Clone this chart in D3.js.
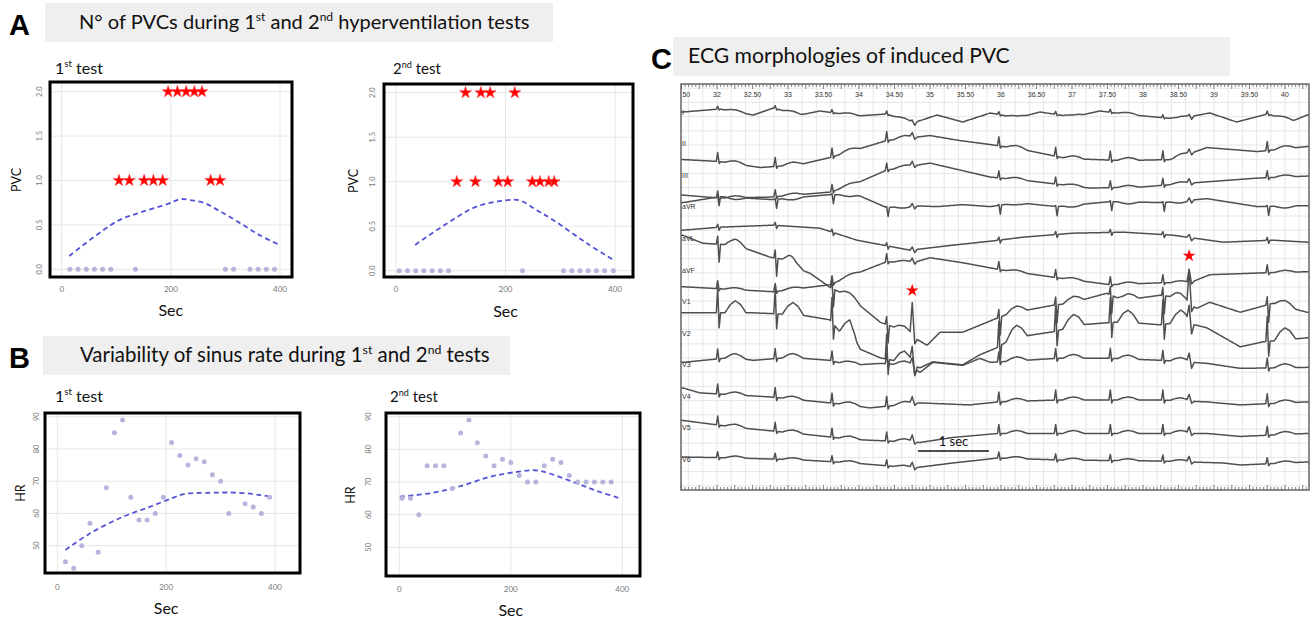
<!DOCTYPE html>
<html><head><meta charset="utf-8">
<script src="https://cdn.jsdelivr.net/npm/d3@7"></script>
<style>
body{margin:0;background:#fff;}
svg{display:block;}
text{font-family:Lato,"Open Sans",sans-serif;}
</style>
</head><body>
<svg id="c" width="1316" height="622"></svg>
<script>
// ---------------- DATA ----------------
const secTicks = [0, 200, 400];
const pvcTicks = [0, 0.5, 1.0, 1.5, 2.0];
const hrTicks = [50, 60, 70, 80, 90];

// Panel A: PVC counts
const pvc1Sec   = [15,30,45,60,75,90,105,124,135,151,168,185,195,212,228,243,257,273,290,300,315,345,360,375,390];
const pvc1Count = [0,0,0,0,0,0,1,1,0,1,1,1,2,2,2,2,2,1,1,0,0,0,0,0,0];
const pvc2Sec   = [6,21,36,51,66,81,96,111,127,145,155,172,187,204,217,231,249,263,279,289,306,321,336,351,366,381,397];
const pvc2Count = [0,0,0,0,0,0,0,1,2,1,2,2,1,1,2,0,1,1,1,1,0,0,0,0,0,0,0];
const pvc1FitSec = [14,101,144,196,217,235,260,291,327,364,401];
const pvc1FitVal = [0.15,0.54,0.64,0.74,0.79,0.78,0.75,0.65,0.52,0.38,0.27];
const pvc2FitSec = [35,93,147,200,226,257,287,348,400];
const pvc2FitVal = [0.29,0.53,0.72,0.79,0.79,0.68,0.57,0.31,0.11];

// Panel B: heart rate
const hr1Sec = [15,30,45,60,75,90,105,120,135,150,165,180,195,210,225,240,255,270,285,300,315,345,360,375,390];
const hr1Val = [45,43,50,57,48,68,85,89,65,58,58,60,65,82,78,75,77,76,72,70,60,63,62,60,65];
const hr2Sec = [5,20,35,50,65,80,95,110,125,140,155,170,185,200,215,230,245,260,275,290,305,320,335,350,365,380];
const hr2Val = [65,65,60,75,75,75,68,85,89,82,78,75,77,76,72,70,70,75,77,76,72,70,70,70,70,70];
const hr1FitSec = [15,60,121,171,210,232,275,336,373,391];
const hr1FitVal = [48.7,53.8,59,62.1,64.7,66,66.4,66.4,65.7,65.2];
const hr2FitSec = [1,61,109,163,211,243,270,318,354,396];
const hr2FitVal = [65.5,66.7,68.7,71.6,73.1,73.6,72.6,69.6,67.3,65];

// Panel C: ECG (time in s, amplitude in mV relative to lead line)
const ecgTimeLabels = [31.5,32,32.5,33,33.5,34,34.5,35,35.5,36,36.5,37,37.5,38,38.5,39,39.5,40];
const ecgLeads = ["I","II","III","aVR","aVL","aVF","V1","V2","V3","V4","V5","V6"];
const sinusTimes = [32.01,32.82,33.62,34.39,35.97,36.77,37.54,38.28,39.75];
const pvcTimes = [34.75,38.65];
const baseI   = [[31.52,0.1],[32.04,0.4],[32.51,-0.2],[32.79,0.5],[33.17,-0.2],[33.45,0.2],[33.97,-0.3],[34.39,-0.1],[34.76,-1.0],[35.10,-0.2],[35.46,-0.9],[35.85,0],[36.23,-0.5],[36.55,0.1],[37.01,-0.4],[37.39,0.2],[37.86,-0.2],[38.48,-0.6],[38.94,0],[39.32,-0.9],[39.75,-0.1],[40.11,-0.8],[40.31,-0.2]];
const baseII  = [[31.52,-1.5],[32.04,-1.7],[32.61,-2.3],[33.17,-2.0],[33.59,-1.3],[33.97,-0.5],[34.39,0.4],[35.00,0.9],[35.42,0.4],[35.85,0],[36.31,-0.5],[36.93,-1.4],[37.72,-1.6],[38.42,-1.5],[38.90,-0.3],[39.61,-0.7],[40.31,-0.2]];
const baseIII = [[31.52,-1.9],[32.04,-2.2],[32.75,-2.1],[33.59,-1.6],[33.97,-0.7],[34.39,0.6],[35.00,1.3],[35.85,-0.1],[36.31,-0.4],[37.25,-1.2],[37.96,-1.1],[38.66,-0.7],[39.61,-0.2],[40.31,0]];
const baseAVR = [[31.52,0.5],[32.04,1.1],[32.79,0.8],[33.59,1.3],[33.97,1.3],[34.39,0],[34.72,0.2],[35.10,0.1],[35.46,0.3],[35.85,0.1],[36.23,0.5],[36.79,0.1],[37.54,0.6],[38.28,0.5],[38.90,0.9],[39.61,0.1],[40.31,0.2]];
const baseAVL = [[31.52,0.9],[32.04,1.2],[32.79,1.4],[33.45,1.1],[33.97,-0.1],[34.72,-1.1],[35.32,-0.6],[35.85,-0.2],[36.31,0.2],[37.01,0.6],[37.72,0.7],[38.42,0.4],[39.13,-0.3],[39.83,-0.1],[40.31,-0.3]];
const baseAVF = [[31.52,-1.6],[32.79,-2.1],[33.59,-1.4],[33.92,-0.4],[34.39,0.9],[34.76,0.8],[35.00,1.3],[35.46,0.8],[35.99,0.1],[36.79,-0.7],[37.54,-1.4],[38.28,-1.2],[38.66,-1.2],[38.94,-0.4],[39.75,-0.2],[40.31,-0.1]];
const baseV1  = [[31.52,6.7],[31.80,5.9],[32.28,5.7],[32.75,4.5],[33.03,4.2],[33.13,3.4],[33.31,2.9],[33.59,1.5],[33.73,1.0],[34.01,-0.3],[34.30,-2.0],[34.54,-2.6],[34.72,-3.3],[34.96,-4.3],[35.14,-3.0],[35.46,-3.0],[35.94,-1.6],[36.13,-1.1],[36.73,-0.3],[36.97,-0.1],[37.49,0.9],[37.72,0.2],[38.24,0.7],[38.48,0.5],[38.62,-0.1],[38.76,-0.6],[38.94,0],[39.37,-1.0],[39.83,-0.1],[40.31,-1.0]];
const baseV2  = [[31.52,2.1],[32.51,2.1],[33.17,1.9],[33.59,1.4],[33.73,0.2],[33.87,0.2],[33.97,-1.4],[34.30,-2.4],[34.58,-2.8],[34.86,-3.4],[35.04,-2.8],[35.46,-3.1],[35.70,-2.1],[35.94,-1.4],[36.17,-0.4],[36.73,0.2],[37.11,0.9],[37.49,1.1],[37.72,1.2],[38.24,0.9],[38.56,1.2],[38.90,0.6],[39.37,-1.3],[39.69,-0.8],[40.31,-0.4]];
const baseV3  = [[31.52,0.3],[32.23,0.8],[32.51,0.5],[33.03,0.8],[33.59,0.5],[33.87,0],[34.30,0.2],[34.72,0],[34.86,-0.7],[35.04,0.3],[35.46,0],[35.70,0.7],[35.85,0.3],[36.79,0.7],[37.54,0.7],[38.28,0.5],[38.90,0.2],[39.37,-0.3],[40.31,-0.2]];
const baseV4  = [[31.52,0.9],[31.76,0.4],[32.75,0],[33.87,-0.8],[34.15,-1.1],[34.86,-0.6],[35.56,-0.8],[35.96,-0.5],[36.83,-0.3],[38.24,-0.3],[38.90,-0.5],[39.37,-0.8],[40.31,-0.5]];
const baseV5  = [[31.52,0.8],[32.28,0.1],[33.13,-0.5],[33.92,-1.1],[34.86,-1.4],[35.32,-0.9],[35.96,-0.5],[36.83,-0.5],[38.24,-0.5],[38.90,-0.5],[39.37,-0.8],[40.31,-0.5]];
const baseV6  = [[31.52,0.3],[32.28,0.2],[33.21,0],[33.92,-0.3],[34.76,-0.8],[35.32,-0.3],[35.96,0.2],[36.83,0],[38.24,-0.1],[39.13,-0.3],[39.37,-0.5],[40.31,-0.2]];
const ecgBaselines = [baseI,baseII,baseIII,baseAVR,baseAVL,baseAVF,baseV1,baseV2,baseV3,baseV4,baseV5,baseV6];
// per-lead complex amplitudes (mV), order as ecgLeads
const sinusR = [0.3,0.9,0.7,0.1,0.3,0.8,0.8,2.5,1.0,1.0,0.9,0.6];
const sinusS = [0.1,0.2,0.2,0.9,0.3,0.2,1.8,1.5,0.3,0.3,0.2,0.2];
const sinusT = [0.2,0.3,0.2,-0.2,0,0.2,0.6,1.2,0.4,0.3,0.3,0.2];
const pvc1R  = [0.2,0.4,0.4,0.3,0.3,0.4,3.2,1.5,0.8,0.6,0.6,0.5];
const pvc2R  = [0.2,0.4,0.4,0.3,0.3,1.3,3.3,1.5,0.8,0.6,0.6,0.5];
const pvcS   = [0.3,0.2,0.2,0.3,0.3,0.2,0.6,1.0,0.6,0.2,0.2,0.2];
const qrsOffsets = [-0.02,0,0.02,0.04];
const pvcOffsets = [-0.03,0,0.035,0.07];
const tOffsets = [0.10,0.18,0.25,0.32,0.40];
const tShape   = [0,0.7,1,0.7,0];
const starLeads = ["V1","aVF"];
const scaleBarStart = 34.83;

// ---------------- DRAW ----------------
const svg = d3.select("#c");
svg.append("rect").attr("width",1316).attr("height",622).attr("fill","#fff");

function supText(g, x, y, parts, size, anchor){
  const t = g.append("text").attr("x",x).attr("y",y).attr("font-size",size)
    .attr("text-anchor",anchor||"start").attr("fill","#111");
  parts.forEach(p=>{
    const s = t.append("tspan").text(p[0]);
    if(p[1]) s.attr("font-size","0.6em").attr("baseline-shift","70%");
  });
  return t;
}
function fitText(t, target){
  const w = t.node().getComputedTextLength();
  const s = parseFloat(t.attr("font-size"));
  t.attr("font-size", s*target/w);
}

// Panel letters
[["A",9,35],["B",9,368],["C",651,69]].forEach(d=>{
  svg.append("text").attr("x",d[1]).attr("y",d[2]).text(d[0])
    .style("font-family","'Liberation Sans',Arial,sans-serif").attr("font-weight","bold").attr("font-size",29).attr("fill","#000");
});

// Title boxes
const titles = [
  {box:[45,3,553,42], x:79, w:451, y:29, parts:[["N° of PVCs during 1"],["st",1],[" and 2"],["nd",1],[" hyperventilation tests"]]},
  {box:[43,336,510,375], x:80, w:410, y:362, parts:[["Variability of sinus rate during 1"],["st",1],[" and 2"],["nd",1],[" tests"]]},
  {box:[673,37,1230,76], x:688, w:322, y:63, parts:[["ECG morphologies of induced PVC"]]}
];
titles.forEach(d=>{
  svg.append("rect").attr("x",d.box[0]).attr("y",d.box[1]).attr("width",d.box[2]-d.box[0]).attr("height",d.box[3]-d.box[1]).attr("fill","#efefef");
  const t = supText(svg, d.x, d.y, d.parts, 18);
  fitText(t, d.w);
});

// sub titles
[[55,74,"1","st"],[393,74,"2","nd"],[55,402,"1","st"],[390,402,"2","nd"]].forEach(d=>{
  const t = supText(svg, d[0], d[1], [[d[2]],[d[3],1],[" test"]], 16);
  fitText(t, 48);
});

function panel(cfg){
  const g = svg.append("g");
  const xs = d3.scaleLinear().domain([0,400]).range(cfg.xr);
  const ys = d3.scaleLinear().domain(cfg.yd).range(cfg.yr);
  const b = cfg.box;
  g.selectAll(".gx").data(secTicks).join("line").attr("x1",d=>xs(d)).attr("x2",d=>xs(d))
    .attr("y1",b[1]).attr("y2",b[3]).attr("stroke","#e6e6e6").attr("stroke-width",1);
  g.selectAll(".gy").data(cfg.ticks).join("line").attr("y1",d=>ys(d)).attr("y2",d=>ys(d))
    .attr("x1",b[0]).attr("x2",b[2]).attr("stroke","#e6e6e6").attr("stroke-width",1);
  const fit = cfg.fitSec.map((s,i)=>[s,cfg.fitVal[i]]);
  g.append("path").datum(fit).attr("d", d3.line().x(d=>xs(d[0])).y(d=>ys(d[1])).curve(d3.curveCatmullRom))
    .attr("fill","none").attr("stroke","#5353d6").attr("stroke-width",1.8).attr("stroke-dasharray","5,3.5");
  const pts = cfg.sec.map((s,i)=>[s,cfg.val[i]]);
  const star = d3.symbol().type(d3.symbolStar).size(44);
  pts.forEach(p=>{
    if(cfg.pvc && p[1]>0){
      g.append("path").attr("d",star()).attr("transform",`translate(${xs(p[0])},${ys(p[1])})`)
        .attr("fill","#ff0000").attr("stroke","#ff4040").attr("stroke-width",0.6);
    } else {
      g.append("circle").attr("cx",xs(p[0])).attr("cy",ys(p[1])).attr("r",2.5).attr("fill","#b5b5dd");
    }
  });
  g.append("rect").attr("x",b[0]).attr("y",b[1]).attr("width",b[2]-b[0]).attr("height",b[3]-b[1])
    .attr("fill","none").attr("stroke","#000").attr("stroke-width",3);
  g.selectAll(".xt").data(secTicks).join("text").attr("x",d=>xs(d)).attr("y",cfg.xtY)
    .attr("text-anchor","middle").attr("dominant-baseline","middle").attr("font-size",8).attr("fill","#777").text(d=>d);
  g.selectAll(".yt").data(cfg.ticks).join("text")
    .attr("transform",d=>`translate(${cfg.ytX},${ys(d)}) rotate(-90)`)
    .attr("text-anchor","middle").attr("dominant-baseline","middle").attr("font-size",7.5).attr("fill","#777").text(cfg.fmt);
  g.append("text").attr("x",(cfg.xr[0]+cfg.xr[1])/2).attr("y",cfg.xlY).attr("text-anchor","middle")
    .attr("dominant-baseline","middle").attr("font-size",16).attr("fill","#111").text("Sec");
  g.append("text").attr("transform",`translate(${cfg.ylX},${cfg.ylY}) rotate(-90)`).attr("text-anchor","middle")
    .attr("dominant-baseline","middle").attr("font-size",12.5).attr("fill","#111").text(cfg.ylab);
}
const f1 = d3.format(".1f");
panel({box:[50,82,292,277], xr:[61.7,280], yd:[0,2], yr:[269.3,91.7], ticks:pvcTicks, fmt:f1, ytX:40, xtY:290, xlY:312, ylX:18, ylY:180, ylab:"PVC",
  sec:pvc1Sec, val:pvc1Count, fitSec:pvc1FitSec, fitVal:pvc1FitVal, pvc:true});
panel({box:[384,84,633,277], xr:[396,615], yd:[0,2], yr:[270.7,92.7], ticks:pvcTicks, fmt:f1, ytX:373, xtY:290, xlY:313, ylX:355, ylY:181, ylab:"PVC",
  sec:pvc2Sec, val:pvc2Count, fitSec:pvc2FitSec, fitVal:pvc2FitVal, pvc:true});
panel({box:[45,413,300,573], xr:[57.3,275], yd:[50,90], yr:[545.7,416.7], ticks:hrTicks, fmt:d=>d, ytX:37, xtY:588, xlY:610, ylX:22, ylY:493, ylab:"HR",
  sec:hr1Sec, val:hr1Val, fitSec:hr1FitSec, fitVal:hr1FitVal, pvc:false});
panel({box:[386,413,640,576], xr:[399.3,622.3], yd:[50,90], yr:[547.3,416.7], ticks:hrTicks, fmt:d=>d, ytX:369, xtY:590, xlY:612, ylX:352, ylY:495, ylab:"HR",
  sec:hr2Sec, val:hr2Val, fitSec:hr2FitSec, fitVal:hr2FitVal, pvc:false});

// ---------------- ECG ----------------
const F = {x0:681, y0:84, x1:1309, y1:490};
const ex = d3.scaleLinear().domain([32,40]).range([717,1285]);
const ly = d3.scalePoint().domain(ecgLeads).range([113,460]);
const mv = d3.scaleLinear().domain([0,1]).range([0,10]);
const tMin = ex.invert(F.x0), tMax = ex.invert(F.x1);
const eg = svg.append("g");
const defs = svg.append("defs");
defs.append("clipPath").attr("id","ecgclip").append("rect")
  .attr("x",F.x0).attr("y",F.y0).attr("width",F.x1-F.x0).attr("height",F.y1-F.y0);
defs.append("filter").attr("id","soft").append("feGaussianBlur").attr("stdDeviation",0.35);
eg.attr("clip-path","url(#ecgclip)");
eg.append("rect").attr("x",F.x0).attr("y",F.y0).attr("width",F.x1-F.x0).attr("height",F.y1-F.y0).attr("fill","#fff");
const gridT = d3.range(Math.ceil(tMin/0.2)*0.2, tMax, 0.2);
eg.selectAll(".vg").data(gridT).join("line").attr("x1",d=>ex(d)).attr("x2",d=>ex(d)).attr("y1",F.y0).attr("y2",F.y1)
  .attr("stroke","#e0e0e0").attr("stroke-width",0.8);
const step = ex(0.2)-ex(0);
const gridY = d3.range(F.y0+ (F.y1-F.y0)%step/2, F.y1, step);
eg.selectAll(".hg").data(gridY).join("line").attr("y1",d=>d).attr("y2",d=>d).attr("x1",F.x0).attr("x2",F.x1)
  .attr("stroke","#e0e0e0").attr("stroke-width",0.8);
const rt = d3.range(Math.ceil(tMin/0.05)*0.05, tMax, 0.05);
eg.selectAll(".rt").data(rt).join("line").attr("x1",d=>ex(d)).attr("x2",d=>ex(d))
  .attr("y1",F.y0).attr("y2",d=>F.y0 + (Math.abs(d*4-Math.round(d*4))<0.01?5:3)).attr("stroke","#666").attr("stroke-width",0.8);
eg.selectAll(".rb").data(rt).join("line").attr("x1",d=>ex(d)).attr("x2",d=>ex(d))
  .attr("y1",F.y1).attr("y2",d=>F.y1 - (Math.abs(d*4-Math.round(d*4))<0.01?5:3)).attr("stroke","#666").attr("stroke-width",0.8);
eg.selectAll(".rl").data(ecgTimeLabels).join("text").attr("x",d=>ex(d)).attr("y",95)
  .attr("text-anchor","middle").attr("dominant-baseline","middle").attr("font-size",7)
  .style("font-family","'Liberation Sans',Arial,sans-serif").attr("fill","#333")
  .text(d=>Number.isInteger(d)?d:d.toFixed(2));
function leadSeries(i){
  const bl = ecgBaselines[i];
  const base = d3.scaleLinear().domain(bl.map(d=>d[0])).range(bl.map(d=>d[1])).clamp(true);
  const comps = [];
  sinusTimes.forEach(tb=>{
    comps.push({t:tb, off:qrsOffsets, val:[0,sinusR[i],-sinusS[i],0]});
    comps.push({t:tb, off:tOffsets, val:tShape.map(v=>v*sinusT[i])});
  });
  pvcTimes.forEach((tb,k)=>{
    comps.push({t:tb, off:pvcOffsets, val:[0,(k?pvc2R:pvc1R)[i],-pvcS[i],0]});
  });
  let ts = d3.range(tMin-0.05, tMax+0.05, 0.01);
  comps.forEach(c=>c.off.forEach(o=>ts.push(c.t+o)));
  ts.sort((a,b)=>a-b);
  const interp = comps.map(c=>d3.scaleLinear().domain(c.off.map(o=>c.t+o)).range(c.val));
  return ts.map(t=>{
    let v = base(t);
    comps.forEach((c,j)=>{ if(t>=c.t+c.off[0] && t<=c.t+c.off[c.off.length-1]) v += interp[j](t); });
    return [t,v];
  });
}
const ecgLine = d3.line().x(d=>ex(d[0]));
const tg = eg.append("g").attr("filter","url(#soft)");
ecgLeads.forEach((lead,i)=>{
  const s = leadSeries(i);
  tg.append("path").datum(s).attr("d", ecgLine.y(d=>ly(lead)-mv(d[1])))
    .attr("fill","none").attr("stroke","#505050").attr("stroke-width",1.5).attr("stroke-linejoin","round");
});
eg.selectAll(".ll").data(ecgLeads).join("text").attr("x",F.x0+1).attr("y",d=>ly(d))
  .attr("dominant-baseline","middle").attr("font-size",7).style("font-family","'Liberation Sans',Arial,sans-serif")
  .attr("fill","#333").text(d=>d);
const bigStar = d3.symbol().type(d3.symbolStar).size(50);
pvcTimes.forEach((tb,k)=>{
  const i = ecgLeads.indexOf(starLeads[k]);
  const bl = ecgBaselines[i];
  const base = d3.scaleLinear().domain(bl.map(d=>d[0])).range(bl.map(d=>d[1]));
  const peak = base(tb) + (k?pvc2R:pvc1R)[i];
  svg.append("path").attr("d",bigStar()).attr("transform",`translate(${ex(tb)},${ly(starLeads[k])-mv(peak)-14})`)
    .attr("fill","#ff0000");
});
svg.append("line").attr("x1",ex(scaleBarStart)).attr("x2",ex(scaleBarStart+1)).attr("y1",451).attr("y2",451)
  .attr("stroke","#111").attr("stroke-width",1.4);
svg.append("text").attr("x",(ex(scaleBarStart)+ex(scaleBarStart+1))/2).attr("y",443).attr("text-anchor","middle")
  .attr("dominant-baseline","middle").attr("font-size",13).attr("fill","#111").text("1 sec");
svg.append("rect").attr("x",F.x0).attr("y",F.y0).attr("width",F.x1-F.x0).attr("height",F.y1-F.y0)
  .attr("fill","none").attr("stroke","#666").attr("stroke-width",1.5);
</script>
</body></html>
